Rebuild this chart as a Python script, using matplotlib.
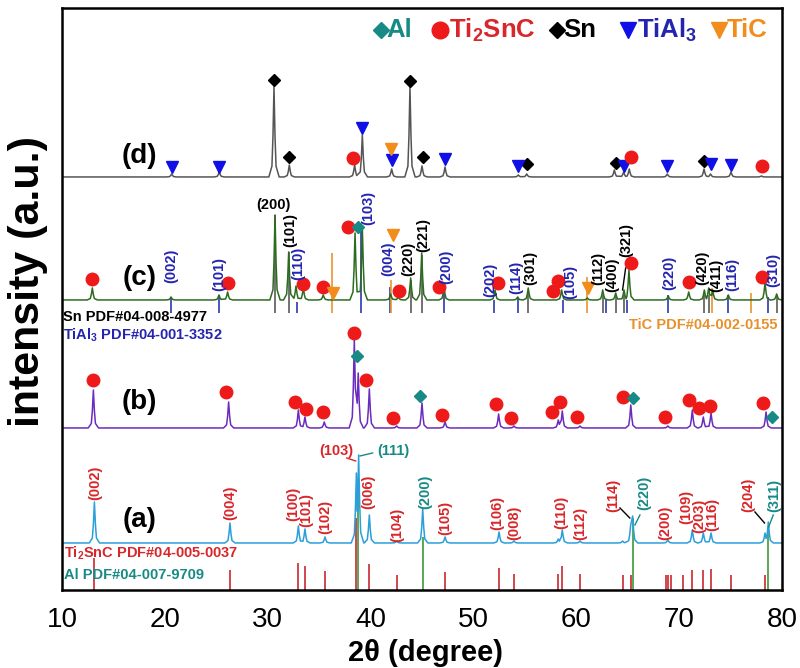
import matplotlib
matplotlib.use('Agg')
import matplotlib.pyplot as plt

plt.rcParams['font.family'] = ['Liberation Sans', 'DejaVu Sans']
plt.rcParams['mathtext.default'] = 'regular'

# ---- colours
c_a = '#2a9fdc'
c_b = '#6a2cbf'
c_c = '#2d6b1f'
c_d = '#555555'
red = '#d8262a'
teal = '#178a86'
blue_m = '#1010e6'
blue_t = '#2424b0'
orange = '#f28c1c'

# ---- patterns: peak position (2theta), peak height, baseline
a_pos = [13.15, 26.33, 32.98, 33.62, 35.57, 38.62, 38.84, 39.88, 42.54, 45.07, 47.24, 52.49, 53.94,
         58.25, 58.64, 60.36, 64.5, 65.29, 65.48, 68.9, 71.28, 72.35, 73.1, 78.35, 78.67]
a_int = [41, 20, 17, 14, 6, 70, 88, 28, 2, 34, 6, 11, 2, 4, 13, 2, 2, 18, 27, 3, 13, 10, 10, 10, 21]
a_base = 47

b_pos = [13.05, 26.2, 32.98, 33.62, 35.5, 38.42, 38.8, 39.88, 42.54, 45.0, 47.24, 52.45, 53.94,
         58.25, 58.64, 60.36, 65.3, 68.9, 71.28, 72.35, 73.1, 78.45]
b_int = [38, 26, 18, 11, 6, 88, 55, 39, 2, 25, 6, 14, 2, 8, 17, 2, 23, 2, 18, 11, 15, 16]
b_base = 162

c_pos = [12.95, 20.6, 25.26, 26.1, 30.71, 32.04, 32.75, 33.46, 35.4, 38.49, 39.2, 41.95, 42.7, 43.9,
         44.97, 47.14, 52.1, 54.3, 55.33, 58.58, 61.07, 62.57, 63.83, 64.64, 65.12, 68.94, 70.93,
         72.45, 72.87, 73.26, 74.78, 78.35, 79.48]
c_int = [12, 3, 5, 8, 85, 48, 14, 12, 5, 67, 72, 6, 3, 22, 47, 13, 10, 3, 12, 10, 2, 10, 7, 10, 30,
         4, 8, 10, 12, 10, 5, 17, 6]
c_base = 290

d_pos = [20.66, 25.29, 30.61, 32.1, 38.45, 39.2, 42.05, 43.83, 45.0, 47.24, 54.36, 55.18, 63.7,
         64.6, 65.15, 68.85, 72.42, 73.05, 75.04, 78.0]
d_int = [3, 5, 90, 12, 12, 42, 8, 90, 11, 10, 2, 3, 7, 5, 8, 3, 8, 3, 5, 1]
d_base = 413

# ---- phase markers (x, y)
d_sn_x = [30.61, 32.1, 43.83, 45.07, 55.18, 63.83, 72.42]
d_sn_y = [510, 433, 509, 433, 426, 427, 429]
d_tial_x = [20.66, 25.29, 39.2, 42.05, 47.24, 54.36, 64.64, 68.85, 73.1, 75.04]
d_tial_y = [423, 423, 462, 430, 431, 424, 424, 424, 426, 425]
d_tic_x = [41.99]
d_tic_y = [441]
d_ts_x = [38.32, 65.29, 78.02]
d_ts_y = [432, 433, 424]

c_ts_x = [12.95, 26.17, 33.46, 35.4, 37.83, 42.76, 46.68, 52.36, 57.77, 58.19, 65.29, 70.99, 78.08]
c_ts_y = [311, 307, 306, 303, 363, 299, 303, 307, 299, 309, 327, 308, 313]
c_al_x = [38.81]
c_al_y = [363]
c_tic_x = [36.38, 42.15, 61.17]
c_tic_y = [297, 355, 302]

b_ts_x = [13.04, 25.94, 32.65, 33.69, 35.37, 38.39, 39.58, 42.21, 46.92, 52.2, 53.62, 57.67, 58.39,
          60.04, 64.51, 68.63, 70.93, 71.9, 73.0, 78.18]
b_ts_y = [210, 198, 188, 181, 178, 257, 210, 172, 175, 186, 172, 178, 188, 173, 193, 173, 190, 182,
          184, 187]
b_al_x = [38.69, 44.8, 65.54, 79.0]
b_al_y = [234, 194, 192, 173]

# ---- standard PDF lines
ts_ref = [13.14, 26.33, 32.98, 33.62, 35.57, 38.58, 39.88, 42.54, 47.24, 52.49, 53.94, 58.25, 58.64,
          60.36, 64.5, 65.29, 68.75, 68.91, 69.18, 70.37, 71.28, 72.35, 73.1, 75.01, 78.35]
ts_ref_h = [32, 20, 27, 24, 19, 72, 26, 15, 18, 22, 16, 16, 24, 16, 15, 15, 15, 15, 15, 15, 20, 20,
            21, 15, 15]
al_ref = [38.81, 45.07, 65.48, 78.67]
al_ref_h = [110, 53, 72, 60]

sn_ref = [30.71, 32.04, 43.9, 44.97, 55.33, 62.57, 63.83, 64.64, 72.45, 72.9, 79.48]
sn_ref_top = [375, 338, 310, 335, 297, 295, 295, 295, 295, 295, 295]
tial_ref = [20.6, 25.26, 32.85, 39.07, 41.89, 47.14, 52.0, 54.3, 58.74, 62.89, 64.9, 68.94, 74.78, 78.61]
tial_ref_top = [293, 295, 288, 360, 303, 303, 290, 292, 290, 290, 290, 295, 295, 293]
tic_ref = [36.22, 41.99, 61.07, 73.16, 76.99]
tic_ref_top = [337, 310, 313, 302, 297]
ref_c_bottom = 277

# ---- hkl labels
sn_lab = ['(101)', '(220)', '(221)', '(301)', '(112)', '(400)', '(321)', '(420)', '(411)']
sn_lab_x = [32.17, 43.67, 45.13, 55.5, 62.14, 63.54, 64.83, 72.29, 73.58]
sn_lab_y = [359.5, 331.5, 354.5, 322, 322, 315, 350, 322.5, 315]
tial_lab = ['(002)', '(101)', '(110)', '(103)', '(004)', '(200)', '(202)', '(114)', '(105)', '(220)',
            '(116)', '(310)']
tial_lab_x = [20.67, 25.26, 32.97, 39.78, 41.72, 47.33, 51.61, 54.14, 59.39, 69.04, 75.2, 79.15]
tial_lab_y = [324.5, 315.5, 326.5, 382.5, 331.5, 323.5, 310, 313, 308.5, 317, 315.5, 320]

ts_lab = ['(002)', '(004)', '(100)', '(101)', '(102)', '(006)', '(104)', '(105)', '(106)', '(008)',
          '(110)', '(112)', '(114)', '(200)', '(109)', '(203)', '(116)', '(204)']
ts_lab_x = [13.21, 26.4, 32.49, 33.79, 35.57, 39.78, 42.6, 47.24, 52.32, 53.94, 58.58, 60.36, 63.6,
            68.62, 70.7, 72.0, 73.25, 76.72]
ts_lab_y = [107, 87, 86, 80, 73, 98, 65, 72, 77, 67, 78, 67, 95, 67, 83, 74, 76, 95]
al_lab = ['(200)', '(220)', '(311)']
al_lab_x = [45.29, 66.58, 79.25]
al_lab_y = [98, 97, 95]


def profile(pos, inten, base):
    offs = [-0.5, -0.2, -0.1, 0, 0.1, 0.2, 0.5]
    frac = [0, 0.12, 0.45, 1, 0.45, 0.12, 0]
    xs, ys = [10], [base]
    for i in range(len(pos)):
        lo = (pos[i] - pos[i - 1]) / 2 if i > 0 else 9
        hi = (pos[i + 1] - pos[i]) / 2 if i < len(pos) - 1 else 9
        for o, f in zip(offs, frac):
            if -lo < o < hi:
                xs.append(pos[i] + o)
                ys.append(base + f * inten[i])
    xs.append(80)
    ys.append(base)
    return xs, ys


fig = plt.figure(figsize=(8, 6.68), dpi=100)
ax = fig.add_axes([0.0775, 0.1168, 0.9, 0.8713])

# standard lines
ax.vlines(ts_ref, 0, ts_ref_h, color='#c8282d', lw=1.2, zorder=1)
ax.vlines(al_ref, 0, al_ref_h, color='#3c9a3c', lw=1.2, zorder=1)
ax.vlines(sn_ref, ref_c_bottom, sn_ref_top, color='#5a5a5a', lw=1.2, zorder=1)
ax.vlines(tial_ref, ref_c_bottom, tial_ref_top, color='#2a3aa8', lw=1.2, zorder=1)
ax.vlines(tic_ref, ref_c_bottom, tic_ref_top, color='#e8962e', lw=1.2, zorder=1)

for pos, inten, base, col in [(a_pos, a_int, a_base, c_a), (b_pos, b_int, b_base, c_b),
                              (c_pos, c_int, c_base, c_c), (d_pos, d_int, d_base, c_d)]:
    xs, ys = profile(pos, inten, base)
    ax.plot(xs, ys, color=col, lw=1.1, zorder=2)

ms = dict(ls='none', zorder=3, clip_on=False)
ax.plot(d_sn_x, d_sn_y, marker='D', color='black', ms=6, **ms)
ax.plot(d_tial_x, d_tial_y, marker='v', color=blue_m, ms=8, **ms)
ax.plot(d_tic_x, d_tic_y, marker='v', color=orange, ms=8, **ms)
ax.plot(d_ts_x, d_ts_y, marker='o', color='#ee1a1a', ms=9, **ms)
ax.plot(c_ts_x, c_ts_y, marker='o', color='#ee1a1a', ms=9, **ms)
ax.plot(c_al_x, c_al_y, marker='D', color=teal, ms=6, **ms)
ax.plot(c_tic_x, c_tic_y, marker='v', color=orange, ms=8, **ms)
ax.plot(b_ts_x, b_ts_y, marker='o', color='#ee1a1a', ms=9, **ms)
ax.plot(b_al_x, b_al_y, marker='D', color=teal, ms=6, **ms)

lab = dict(rotation=90, ha='center', va='center', fontsize=10.5, fontweight='bold', zorder=4)
for t, x, y in zip(sn_lab, sn_lab_x, sn_lab_y):
    ax.text(x, y, t, color='black', **lab)
for t, x, y in zip(tial_lab, tial_lab_x, tial_lab_y):
    ax.text(x, y, t, color=blue_t, **lab)
for t, x, y in zip(ts_lab, ts_lab_x, ts_lab_y):
    ax.text(x, y, t, color=red, **lab)
for t, x, y in zip(al_lab, al_lab_x, al_lab_y):
    ax.text(x, y, t, color=teal, **lab)
ax.text(30.54, 385, '(200)', color='black', ha='center', va='center', fontsize=10.5, fontweight='bold')
ax.text(36.64, 139, '(103)', color=red, ha='center', va='center', fontsize=10.5, fontweight='bold')
ax.text(42.2, 139, '(111)', color=teal, ha='center', va='center', fontsize=10.5, fontweight='bold')

# leader lines
ax.plot([37.68, 38.55], [132, 129], color=red, lw=1)
ax.plot([38.97, 40.2], [134, 137], color=teal, lw=1)
ax.plot([64.25, 65.2], [82, 72], color='black', lw=1)
ax.plot([66.19, 65.7], [75, 65], color=teal, lw=1)
ax.plot([77.37, 78.3], [78, 67], color='black', lw=1)
ax.plot([79.15, 78.7], [75, 63], color=teal, lw=1)
ax.plot([64.8, 64.5], [322, 300], color='black', lw=1)

# standard card names
card = dict(fontsize=10.5, fontweight='bold', va='center')
ax.text(10.2, 37, 'Ti$_2$SnC PDF#04-005-0037', color=red, ha='left', **card)
ax.text(10.2, 15, 'Al PDF#04-007-9709', color=teal, ha='left', **card)
ax.text(10.1, 273, 'Sn PDF#04-008-4977', color='black', ha='left', **card)
ax.text(10.1, 255, 'TiAl$_3$ PDF#04-001-3352', color=blue_t, ha='left', **card)
ax.text(79.6, 265, 'TiC PDF#04-002-0155', color='#e8902a', ha='right', **card)

# panel tags
for t, y in zip(['(a)', '(b)', '(c)', '(d)'], [70, 188, 312, 434]):
    ax.text(17.5, y, t, ha='center', va='center', fontsize=20, fontweight='bold')

# legend row
ly = 560
ax.plot([40.98], [ly], marker='D', color=teal, ms=8, ls='none')
ax.text(41.57, ly, 'Al', color=teal, fontsize=18.5, fontweight='bold', va='center')
ax.plot([46.75], [ly], marker='o', color='#ee1a1a', ms=12, ls='none')
ax.text(47.62, ly, 'Ti$_2$SnC', color=red, fontsize=18.5, fontweight='bold', va='center')
ax.plot([58.09], [ly], marker='D', color='black', ms=8, ls='none')
ax.text(58.71, ly, 'Sn', color='black', fontsize=18.5, fontweight='bold', va='center')
ax.plot([65.06], [ly], marker='v', color=blue_m, ms=11, ls='none')
ax.text(65.87, ly, 'TiAl$_3$', color=blue_t, fontsize=18.5, fontweight='bold', va='center')
ax.plot([73.9], [ly], marker='v', color=orange, ms=11, ls='none')
ax.text(74.62, ly, 'TiC', color=orange, fontsize=18.5, fontweight='bold', va='center')

ax.set_xlim(10, 80)
ax.set_ylim(0, 582)
ax.set_xticks([10, 20, 30, 40, 50, 60, 70, 80])
ax.set_yticks([])
ax.tick_params(axis='x', length=0, pad=12, labelsize=20)
for s in ax.spines.values():
    s.set_linewidth(1.8)

ax.set_xlabel('2θ (degree)', fontsize=21, fontweight='bold')
ax.xaxis.set_label_coords(0.505, -0.085)
ax.set_ylabel('intensity (a.u.)', fontsize=31, fontweight='bold')
ax.yaxis.set_label_coords(-0.02, 0.53)

fig.savefig('out.png', dpi=100)
